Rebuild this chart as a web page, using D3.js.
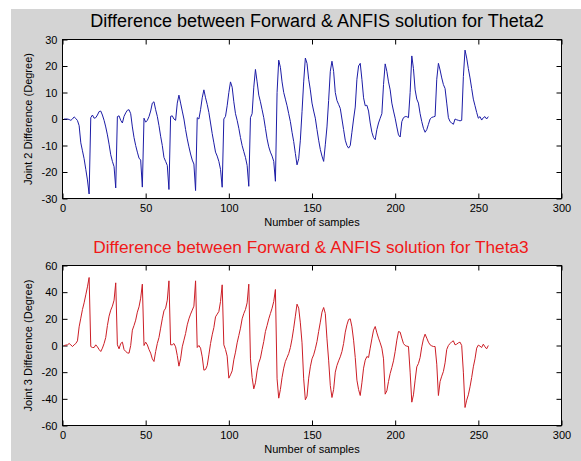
<!DOCTYPE html>
<html>
<head>
<meta charset="utf-8">
<script src="https://cdn.jsdelivr.net/npm/d3@7"></script>
<style>
  html, body { margin: 0; padding: 0; background: #fff; }
  svg { display: block; }
</style>
</head>
<body>
<div id="chart"></div>
<script>
// sample n is plotted at x = n + 1 (1-based sample numbers)
const theta2Diff = [
  0, 0, 0, -0.2, -0.5, 0, 0.8, 0.2, -0.6, -2.5, -9, -12, -15, -19, -23, -28.3,
  0.5, 1.5, 0.3, 0.5, 1.5, 2.8, 3, 1.5, -0.5, -3, -6, -9.5, -13.5, -16, -18, -26,
  0.9, 1.2, -0.5, -1.5, 1, 2.3, 3.3, 3.5, 2, -3, -7, -10, -12.5, -14.75, -15.5, -25.7,
  0.3, -1.2, -0.5, 0.9, 3, 6, 6.5, 3.5, 1, -2.5, -6.5, -10, -14.5, -16, -17.5, -26.6,
  1, 1.2, 0, -0.5, 6, 9, 6, 3, 0, -4, -7.5, -10.5, -13.2, -15.5, -17, -27,
  0.5, 0, 3.5, 8, 11, 8, 5.5, 2.5, -1.5, -5.5, -9, -12.5, -14, -16, -19, -25.75,
  0, 1, 5, 10, 14, 12, 6.5, 2, -0.5, -3.5, -7, -10, -12.3, -14.5, -17.5, -25.4,
  0.5, 2, 12, 18.7, 14, 9, 6.5, 3.5, 0.5, -3.5, -7.5, -10.5, -12.5, -14, -16, -23.5,
  10, 22.2, 19.5, 14, 10, 7.5, 5, 2, -1, -5, -8.5, -13, -17.3, -15, -8, 2.75,
  14, 23, 21, 15, 11, 6, 3, 0.3, -4, -8, -11.5, -14, -16, -9.75, -3, 7,
  18, 21.8, 18, 10, 7, 5.5, 4, 0, -4, -8, -10, -11, -10, -5, 0, 4.5,
  15, 20, 21, 15, 8, 5, 5.2, 3, -1.5, -5, -7, -7.8, -4, -1.5, 0.3, 2,
  13, 20.8, 18, 14, 11, 6, 3, 0.3, -3, -6, -6.8, -1, 0.5, 0.9, 0.9, 0.5,
  10, 23.8, 19, 11, 7.5, 6, 2, -1, -3.5, -5, -4, -2, 0, 0.6, 0.8, 1,
  15, 21, 18.5, 15.5, 13, 11.5, 6, 0.5, -1, -1.5, -2, 0, -0.3, -0.5, -0.7, -0.5,
  16, 26, 23, 19, 15.5, 11.5, 7.5, 5, 2.5, 0.3, 0.9, -0.4, 0.5, 0.9, 0, 0.9
]

const theta3Diff = [
  0, 0.3, 0.5, 1.5, 0.5, -0.8, 0.5, 1.5, 3.5, 14, 20.5, 27, 32, 38, 44, 51,
  -0.8, -1.5, -1.5, 0.5, -1, -3, -4.5, -2, 1.5, 6, 15, 22, 26.5, 29.5, 34, 47,
  0.5, -2.5, 1.5, 2.5, -3, -4.5, -5.5, -5.75, 0, 11.5, 15, 19, 25, 29, 35.5, 46,
  0, 2.5, 0.5, -3, -5.75, -10, -12, -4.5, 1.5, 6, 13, 20, 26, 28, 34, 48.5,
  0.5, 0.5, 1.5, -1, -7.5, -15.5, -10, -1, 4, 9, 15.5, 20, 23.5, 26.5, 29.5, 48.5,
  -1.5, 0, -2, -8.5, -18.5, -18, -15, -7, 1.5, 8, 13.5, 21.5, 23.5, 25.5, 33, 45.5,
  0.5, -3, -8, -24.5, -22, -19, -10.75, -5, 2, 7.5, 13, 20, 24, 27, 32, 46,
  -10, -24, -32.5, -28, -19, -13, -9.5, -3, 3, 10.5, 15, 20, 24, 28, 33, 42,
  -25, -39.5, -33, -24, -17, -12, -9, -6, -1.5, 5, 13, 22, 31, 28, 17, 2,
  -25, -40.75, -38, -24.5, -16, -10, -7, -2.5, 3, 10.5, 17.5, 25, 28.5, 24, 5, -11,
  -30, -39, -33, -20, -15, -11.5, -8.5, -4.5, 1.5, 10, 15.5, 19.5, 20, 14, 4, -9,
  -26, -33, -37.5, -28, -17, -11, -8.25, -9, -2, 5, 11.5, 14.25, 9.5, 5.5, 2, -2,
  -10, -36.5, -34, -27, -21, -16.5, -11.5, -4.5, 4, 10.5, 10, 5.5, 1.5, 0, -0.5, -0.75,
  -20, -42.5, -37, -26, -16, -13.5, -9, -1, 5, 8.5, 5.5, 2.5, 0.5, -0.3, -0.75, -0.75,
  -14, -37.5, -27, -23, -19.5, -13, -3, 0, 1.5, 2.8, 3.5, 0.5, 1, 2, 2.5, 0,
  -20, -46.5, -41, -37, -31, -24, -16, -10, -2, 0.3, -0.5, -1.5, 1, -1, -2.5, 0
]

const xTicks = [0, 50, 100, 150, 200, 250, 300]
const theta2Ticks = [-30, -20, -10, 0, 10, 20, 30]
const theta3Ticks = [-60, -40, -20, 0, 20, 40, 60]

const titles = [
  'Difference between Forward & ANFIS solution for Theta2',
  'Difference between Forward & ANFIS solution for Theta3',
]
const yLabels = ['Joint 2 Difference (Degree)', 'Joint 3 Difference (Degree)']
const xLabel = 'Number of samples'

const font = '"Liberation Sans", Arial, sans-serif'

const panels = [
  {
    title: titles[0], titleColor: '#000', titleSize: 18, titleX: 317,
    yLabel: yLabels[0], values: theta2Diff, ticks: theta2Ticks, domain: [-30, 30],
    lineColor: '#1c1ca6', top: 39.5, bottom: 198.5,
  },
  {
    title: titles[1], titleColor: '#f01818', titleSize: 17.3, titleX: 311,
    yLabel: yLabels[1], values: theta3Diff, ticks: theta3Ticks, domain: [-60, 60],
    lineColor: '#cc1e26', top: 265.5, bottom: 425.5,
  },
]

const left = 62.5
const right = 561.5

const svg = d3
  .select('#chart')
  .append('svg')
  .attr('width', 581)
  .attr('height', 461)

// grey figure background
svg
  .append('rect')
  .attr('x', 11)
  .attr('y', 9)
  .attr('width', 570)
  .attr('height', 452)
  .attr('fill', '#d4d4d4')

const xScale = d3.scaleLinear().domain([0, 300]).range([left, right])

const styleAxis = sel => {
  sel.select('.domain').remove()
  sel.attr('font-family', font).attr('font-size', 11)
  sel.selectAll('.tick text').attr('fill', '#000')
  sel.selectAll('.tick line').attr('stroke', '#000')
}

panels.forEach(p => {
  const yScale = d3.scaleLinear().domain(p.domain).range([p.bottom, p.top])
  const g = svg.append('g')

  g.append('rect')
    .attr('x', left)
    .attr('y', p.top)
    .attr('width', right - left)
    .attr('height', p.bottom - p.top)
    .attr('fill', '#fff')

  g.append('g')
    .attr('transform', `translate(0, ${p.bottom})`)
    .call(
      d3.axisBottom(xScale).tickValues(xTicks)
        .tickSizeInner(-5).tickSizeOuter(0).tickPadding(6)
        .tickFormat(d => String(d)),
    )
    .call(styleAxis)

  g.append('g')
    .attr('transform', `translate(0, ${p.top})`)
    .call(d3.axisTop(xScale).tickValues(xTicks).tickSizeInner(-5).tickSizeOuter(0).tickFormat(''))
    .call(styleAxis)

  g.append('g')
    .attr('transform', `translate(${left}, 0)`)
    .call(
      d3.axisLeft(yScale).tickValues(p.ticks)
        .tickSizeInner(-5).tickSizeOuter(0).tickPadding(5)
        .tickFormat(d => String(d)),
    )
    .call(styleAxis)

  g.append('g')
    .attr('transform', `translate(${right}, 0)`)
    .call(d3.axisRight(yScale).tickValues(p.ticks).tickSizeInner(-5).tickSizeOuter(0).tickFormat(''))
    .call(styleAxis)

  const line = d3
    .line()
    .x((d, i) => xScale(i + 1))
    .y(d => yScale(d))

  g.append('path')
    .datum(p.values)
    .attr('d', line)
    .attr('fill', 'none')
    .attr('stroke', p.lineColor)
    .attr('stroke-width', 1)

  g.append('rect')
    .attr('x', left)
    .attr('y', p.top)
    .attr('width', right - left)
    .attr('height', p.bottom - p.top)
    .attr('fill', 'none')
    .attr('stroke', '#000')

  g.append('text')
    .attr('x', p.titleX)
    .attr('y', p.top - 12.5)
    .attr('text-anchor', 'middle')
    .attr('font-family', font)
    .attr('font-size', p.titleSize)
    .attr('fill', p.titleColor)
    .text(p.title)

  g.append('text')
    .attr('transform', `translate(32, ${(p.top + p.bottom) / 2}) rotate(-90)`)
    .attr('text-anchor', 'middle')
    .attr('font-family', font)
    .attr('font-size', 11)
    .attr('fill', '#000')
    .text(p.yLabel)

  g.append('text')
    .attr('x', (left + right) / 2)
    .attr('y', p.bottom + 27.5)
    .attr('text-anchor', 'middle')
    .attr('font-family', font)
    .attr('font-size', 11)
    .attr('fill', '#000')
    .text(xLabel)
})
</script>
</body>
</html>
